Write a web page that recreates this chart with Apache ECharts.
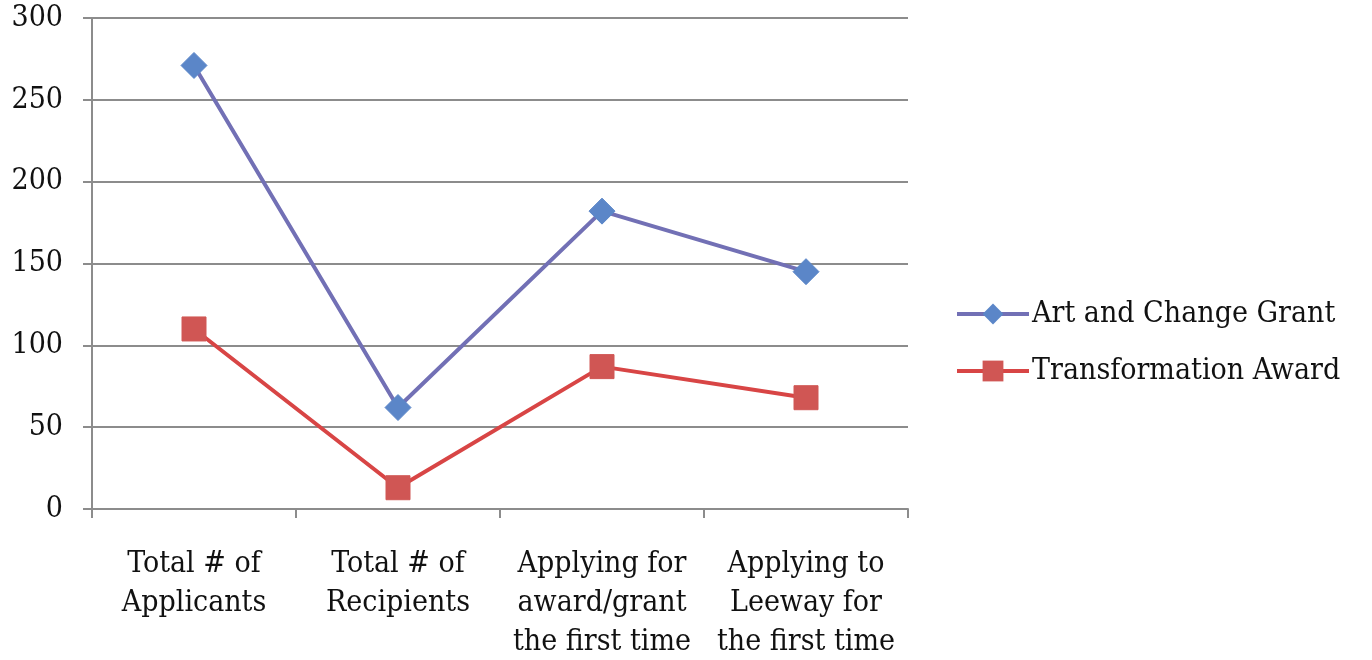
<!DOCTYPE html>
<html>
<head>
<meta charset="utf-8">
<style>html,body{margin:0;padding:0;background:#fff;}#c{width:1372px;height:660px;}</style>
<script src="https://cdn.jsdelivr.net/npm/echarts@6/dist/echarts.min.js"></script>
</head>
<body>
<div id="c"></div>
<script>
const categories = ["Total # of\nApplicants", "Total # of\nRecipients", "Applying for\naward/grant\nthe first time", "Applying to\nLeeway for\nthe first time"];
const artAndChange = [271, 62, 182, 145];
const transformation = [110, 13, 87, 68];
const yTicks = [0, 50, 100, 150, 200, 250, 300];

const chart = echarts.init(document.getElementById('c'));
const font = "'DejaVu Serif Condensed', 'DejaVu Serif', serif";
chart.setOption({
  animation: false,
  textStyle: { fontFamily: font },
  grid: { left: 92, right: 464, top: 18, bottom: 151, containLabel: false, outerBoundsMode: 'none' },
  legend: {
    orient: 'vertical',
    left: 955, top: 299, padding: 0,
    itemWidth: 72, itemHeight: 26, itemGap: 27,
    lineStyle: { width: 4 },
    textStyle: { fontFamily: font, fontSize: 30, color: '#111', padding: [0,0,0,-2] },
    data: ['Art and Change Grant', 'Transformation Award']
  },
  xAxis: {
    type: 'category',
    data: categories,
    boundaryGap: true,
    axisLine: { lineStyle: { color: '#8c8c8c', width: 2 } },
    axisTick: { show: true, length: 9, inside: false, lineStyle: { color: '#8c8c8c', width: 2 } },
    axisLabel: { fontFamily: font, fontSize: 30, color: '#111', lineHeight: 39, margin: 36, interval: 0 }
  },
  yAxis: {
    type: 'value',
    min: yTicks[0], max: yTicks[yTicks.length - 1], interval: 50,
    axisLine: { show: true, lineStyle: { color: '#8c8c8c', width: 2 } },
    axisTick: { show: true, length: 9, lineStyle: { color: '#8c8c8c', width: 2 } },
    splitLine: { lineStyle: { color: '#8c8c8c', width: 2 } },
    axisLabel: { fontFamily: font, fontSize: 30, color: '#111', margin: 29 }
  },
  series: [
    {
      name: 'Art and Change Grant', type: 'line', data: artAndChange,
      symbol: 'diamond', symbolSize: 26,
      lineStyle: { color: '#7270B5', width: 4 },
      itemStyle: { color: '#5B86C8', borderColor: '#5B86C8' }
    },
    {
      name: 'Transformation Award', type: 'line', data: transformation,
      symbol: 'rect', symbolSize: 24,
      lineStyle: { color: '#D84545', width: 4 },
      itemStyle: { color: '#D05654', borderColor: '#D05654' }
    }
  ]
});
</script>
</body>
</html>
